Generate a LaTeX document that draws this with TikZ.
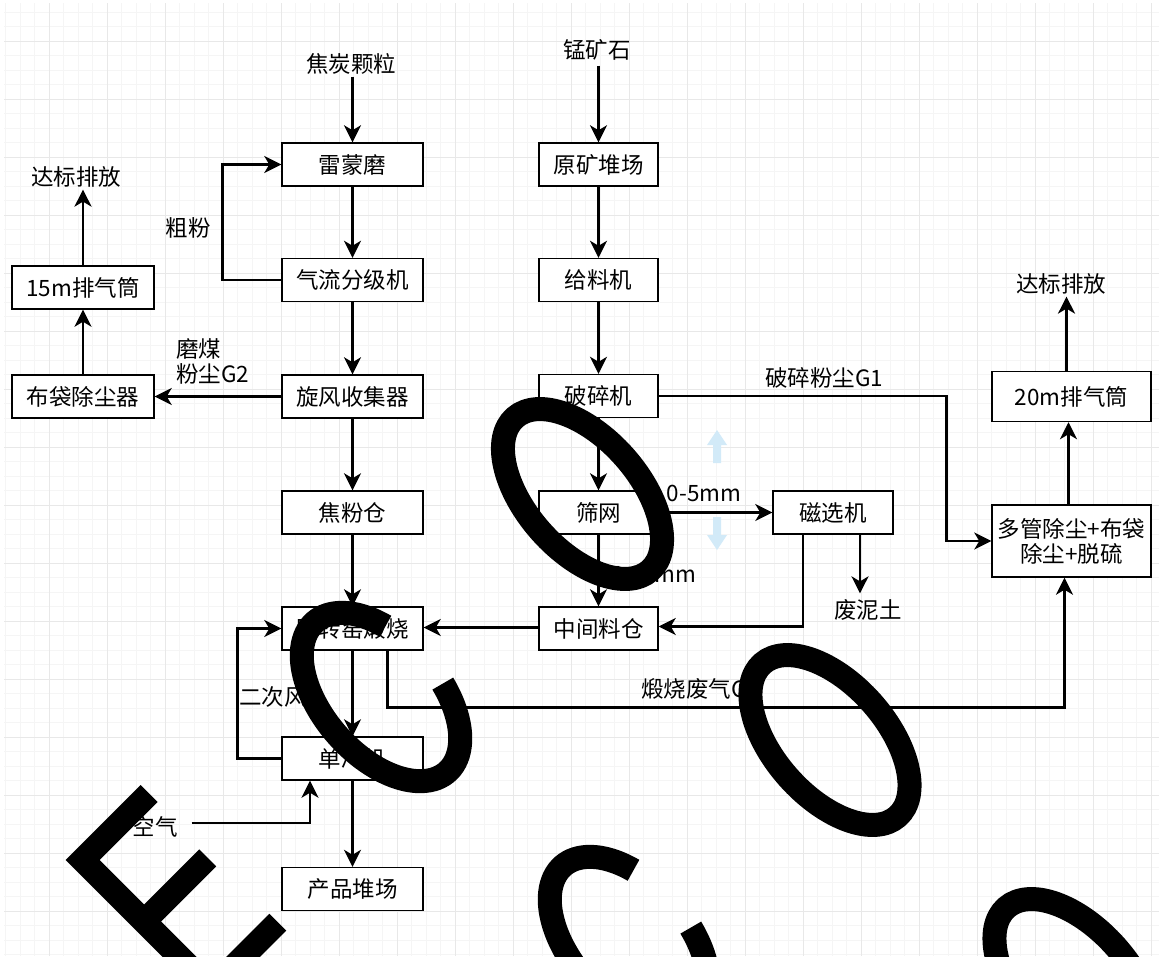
\documentclass[tikz,border=0pt]{standalone}
\usepackage{fontspec}
\setmainfont{Noto Sans CJK SC}
\usetikzlibrary{arrows.meta,calc}
\definecolor{minorg}{HTML}{F5F5F5}
\definecolor{majorg}{HTML}{E8E8E8}
\definecolor{hintblue}{HTML}{D2EAF8}
\begin{document}
\begin{tikzpicture}[x=1pt,y=-1pt,
  every node/.style={font=\fontsize{22.5pt}{25pt}\selectfont, inner sep=2pt},
  box/.style={draw, line width=1.4pt, fill=white, minimum height=43pt, inner sep=0pt, align=center},
  arr/.style={line width=2.7pt, -{Stealth[length=17pt,width=17pt,inset=5pt]}},
  wm/.style={line width=24pt, black, line join=miter},
]
\useasboundingbox (0,0) rectangle (1159,956);
\fill[white] (0,0) rectangle (1159,956);
% grid
\begin{scope}
\clip (4,3) rectangle (1159,956);
\foreach \i in {0,...,80} {\draw[minorg, line width=0.8pt] (5.8+14.5*\i,3) -- (5.8+14.5*\i,956);}
\foreach \i in {0,...,66} {\draw[minorg, line width=0.8pt] (4,12.3+14.5*\i) -- (1159,12.3+14.5*\i);}
\foreach \i in {-1,...,20} {\draw[majorg, line width=1pt] (49.3+58*\i,3) -- (49.3+58*\i,956);}
\foreach \i in {-1,...,16} {\draw[majorg, line width=1pt] (4,41.3+58*\i) -- (1159,41.3+58*\i);}
\end{scope}

% column A
\node (coke) at (351,64) {焦炭颗粒};
\node[box, minimum width=141pt] (mill) at (352.5,164.5) {雷蒙磨};
\node[box, minimum width=141pt] (cls) at (352.5,280) {气流分级机};
\node[box, minimum width=141pt] (cyc) at (352.5,396.5) {旋风收集器};
\node[box, minimum width=141pt] (cpb) at (352.5,512.5) {焦粉仓};
\node[box, minimum width=141pt] (kiln) at (352.5,628.5) {回转窑煅烧};
\node[box, minimum width=141pt] (cool) at (352.5,758.5) {单冷机};
\node[box, minimum width=141pt] (prod) at (352.5,889) {产品堆场};

% column B
\node (ore) at (597,50) {锰矿石};
\node[box, minimum width=119pt] (yard) at (598.5,164.5) {原矿堆场};
\node[box, minimum width=119pt] (feed) at (598.5,280) {给料机};
\node[box, minimum width=119pt] (crush) at (598.5,396) {破碎机};
\node[box, minimum width=119pt] (sieve) at (598.5,512.5) {筛网};
\node[box, minimum width=119pt] (bin) at (598.5,628.5) {中间料仓};
\node[box, minimum width=120pt] (mag) at (833,512.5) {磁选机};
\node (mud) at (868,610) {废泥土};

% right
\node[box, minimum width=159pt, minimum height=72pt] (multi) at (1071.5,541) {多管除尘+布袋\\除尘+脱硫};
\node[box, minimum width=159pt, minimum height=50pt] (s20) at (1071.5,396.5) {20m排气筒};
\node (tgt2) at (1061,284) {达标排放};

% left
\node[box, minimum width=142pt] (bag) at (83,396.5) {布袋除尘器};
\node[box, minimum width=142pt] (s15) at (83,287.5) {15m排气筒};
\node (tgt1) at (76,177) {达标排放};
\node (air) at (155,827) {空气};

% labels
\node at (188,228) {粗粉};
\node[anchor=west, align=left] at (174,361) {磨煤\\粉尘G2};
\node at (824,378) {破碎粉尘G1};
\node at (704,493) {0-5mm};
\node[anchor=west] at (607,574) {5-30mm};
\node at (700,689) {煅烧废气G3};
\node at (273,697) {二次风};

% connectors column A
\draw[arr] (coke.south -| mill.north) -- (mill.north);
\draw[arr] (mill) -- (cls);
\draw[arr] (cls) -- (cyc);
\draw[arr] (cyc) -- (cpb);
\draw[arr] (cpb) -- (kiln);
\draw[arr] (kiln) -- (cool);
\draw[arr] (cool) -- (prod);
\draw[arr] (cls.west) -- ++(-59,0) |- (mill.west);
\draw[arr] (cyc.west) -- (bag.east);
\draw[arr] (bag) -- (s15);
\draw[arr] (s15.north) -- (s15.north |- tgt1.south);
\draw[arr] (cool.west) -- ++(-44,0) |- (kiln.west);
\draw[arr] ([xshift=12pt,yshift=4pt]air.east) -| ([xshift=-42.5pt]cool.south);

% connectors column B
\draw[arr] ([yshift=-3pt]ore.south -| yard.north) -- (yard.north);
\draw[arr] (yard) -- (feed);
\draw[arr] (feed) -- (crush);
\draw[arr] (crush) -- (sieve);
\draw[arr] (sieve) -- (bin);
\draw[arr] (sieve) -- (mag);
\draw[arr] ([xshift=27pt]mag.south) -- ([xshift=27pt,yshift=4pt]mag.south |- mud.north);
\draw[arr] ([xshift=-30pt]mag.south) |- ([yshift=2pt]bin.east);
\draw[arr] ([yshift=1pt]bin.west) -- ([yshift=1pt]kiln.east);
\draw[arr] (crush.east) -- (946.7,396) |- (multi.west);
\draw[arr] ([xshift=35pt]kiln.south) -- ++(0,56.5) -| ([xshift=-7pt]multi.south);
\draw[arr] ([xshift=-3pt]multi.north) -- ([xshift=-3pt]s20.south);
\draw[arr] ([xshift=-5pt]s20.north) -- ([xshift=-5pt]s20.north |- tgt2.south);

% hint arrows
\fill[hintblue] (717,430) -- (727,445) -- (721,445) -- (721,463) -- (713,463) -- (713,445) -- (707,445) -- cycle;
\fill[hintblue] (717,550) -- (727,535) -- (721,535) -- (721,517) -- (713,517) -- (713,535) -- (707,535) -- cycle;

% watermark
\begin{scope}[shift={(82.6,860)}, rotate=45]
\draw[wm] (94,0) -- (0,0) -- (0,182) -- (94,182);
\draw[wm] (0,87) -- (90,87);
\end{scope}
\begin{scope}[shift={(381,697)}, rotate=-48.5]
\draw[wm] plot[domain=-72:240, samples=90, smooth] ({100*cos(\x)}, {58*sin(\x)});
\end{scope}
\begin{scope}[shift={(582.5,494)}, rotate=-48.5]
\draw[wm] (0,0) ellipse [x radius=102pt, y radius=56pt];
\end{scope}
\begin{scope}[shift={(629,941)}, rotate=-48.5]
\draw[wm] plot[domain=-72:240, samples=90, smooth] ({100*cos(\x)}, {58*sin(\x)});
\end{scope}
\begin{scope}[shift={(830,740)}, rotate=-48.5]
\draw[wm] (0,0) ellipse [x radius=102pt, y radius=56pt];
\end{scope}
\begin{scope}[shift={(1074,984)}, rotate=-48.5]
\draw[wm] (0,0) ellipse [x radius=102pt, y radius=56pt];
\end{scope}
\end{tikzpicture}
\end{document}
